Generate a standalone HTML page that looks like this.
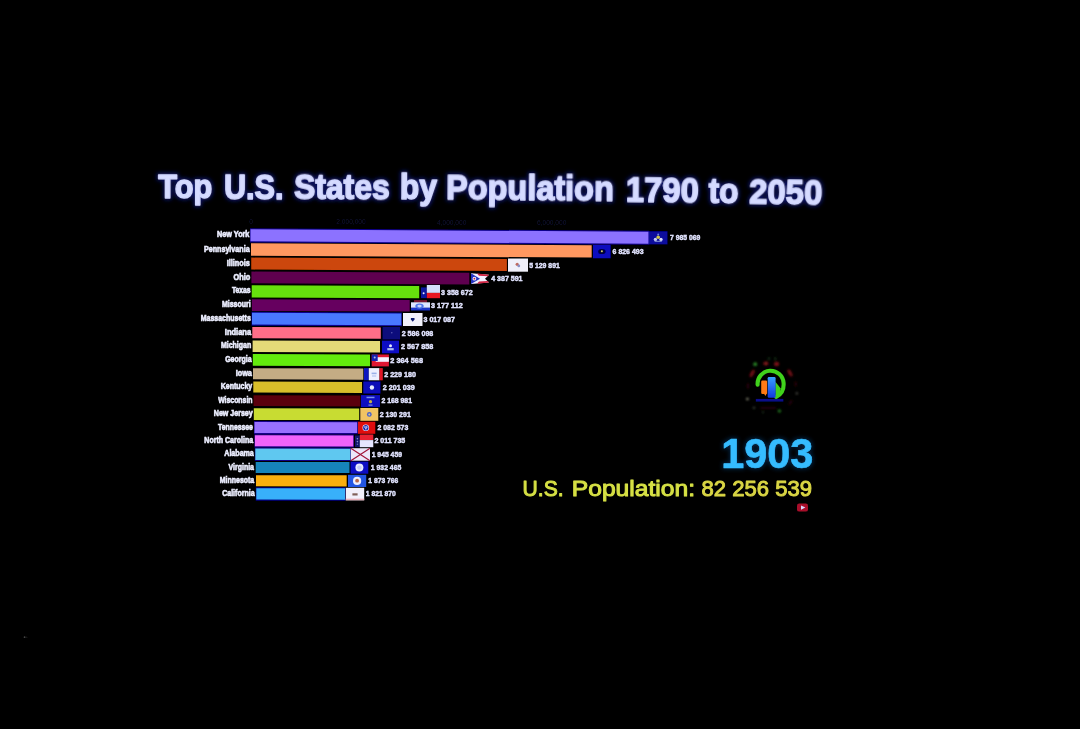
<!DOCTYPE html>
<html lang="en"><head><meta charset="utf-8"><title>Top U.S. States by Population 1790 to 2050</title>
<style>
html,body{margin:0;padding:0;background:#000;}
body{width:1080px;height:729px;overflow:hidden;position:relative;font-family:"Liberation Sans",sans-serif;}
svg{display:block;position:absolute;left:0;top:0;}
text{font-family:"Liberation Sans",sans-serif;font-weight:bold;}
</style></head><body>
<svg width="1080" height="729" viewBox="0 0 1080 729">
<defs>
<filter id="b05" x="-5%" y="-20%" width="110%" height="140%"><feGaussianBlur stdDeviation="0.5"/></filter>
<filter id="b06" x="-5%" y="-20%" width="110%" height="140%"><feGaussianBlur stdDeviation="0.6"/></filter>
<filter id="b07" x="-5%" y="-20%" width="110%" height="140%"><feGaussianBlur stdDeviation="0.7"/></filter>
<filter id="b1" x="-10%" y="-30%" width="120%" height="160%"><feGaussianBlur stdDeviation="1.1"/></filter>
<filter id="glow" x="-5%" y="-40%" width="110%" height="180%"><feGaussianBlur stdDeviation="2.2"/></filter>
<filter id="tglow" x="-25%" y="-40%" width="150%" height="180%"><feMorphology in="SourceAlpha" operator="dilate" radius="0.9" result="d"/><feGaussianBlur in="d" stdDeviation="2.2" result="bl"/><feFlood flood-color="#1c2ae0" flood-opacity="0.5"/><feComposite in2="bl" operator="in" result="g"/><feGaussianBlur in="SourceGraphic" stdDeviation="0.7" result="s"/><feMerge><feMergeNode in="g"/><feMergeNode in="s"/></feMerge></filter>
<filter id="yglow" x="-10%" y="-30%" width="120%" height="160%"><feMorphology in="SourceAlpha" operator="dilate" radius="0.8" result="d"/><feGaussianBlur in="d" stdDeviation="2.2" result="bl"/><feFlood flood-color="#1a6cd0" flood-opacity="0.32"/><feComposite in2="bl" operator="in" result="g"/><feGaussianBlur in="SourceGraphic" stdDeviation="0.7" result="s"/><feMerge><feMergeNode in="g"/><feMergeNode in="s"/></feMerge></filter>
<linearGradient id="lb" x1="0" y1="0" x2="0" y2="1"><stop offset="0" stop-color="#39a0ff"/><stop offset="1" stop-color="#1238e0"/></linearGradient>
</defs>
<rect width="1080" height="729" fill="#000"/>
<g fill="#d6dbff" stroke="#d0d6ff" stroke-width="1.5" stroke-linejoin="round"><text x="158.2" y="198.34" font-size="34.0" textLength="54.0" lengthAdjust="spacingAndGlyphs" transform="rotate(0.10 185.2 198.3)" filter="url(#tglow)">Top</text><text x="224.0" y="198.52" font-size="34.4" textLength="59.5" lengthAdjust="spacingAndGlyphs" transform="rotate(0.20 253.8 198.5)" filter="url(#tglow)">U.S.</text><text x="293.9" y="198.91" font-size="35.0" textLength="95.9" lengthAdjust="spacingAndGlyphs" transform="rotate(0.31 341.9 198.9)" filter="url(#tglow)">States</text><text x="399.8" y="199.40" font-size="35.2" textLength="37.2" lengthAdjust="spacingAndGlyphs" transform="rotate(0.41 418.4 199.4)" filter="url(#tglow)">by</text><text x="446.0" y="200.34" font-size="34.9" textLength="167.8" lengthAdjust="spacingAndGlyphs" transform="rotate(0.56 529.9 200.3)" filter="url(#tglow)">Population</text><text x="625.8" y="201.84" font-size="35.6" textLength="73.0" lengthAdjust="spacingAndGlyphs" transform="rotate(0.74 662.3 201.8)" filter="url(#tglow)">1790</text><text x="708.4" y="202.67" font-size="35.7" textLength="30.0" lengthAdjust="spacingAndGlyphs" transform="rotate(0.82 723.4 202.7)" filter="url(#tglow)">to</text><text x="749.0" y="203.61" font-size="35.8" textLength="73.2" lengthAdjust="spacingAndGlyphs" transform="rotate(0.90 785.6 203.6)" filter="url(#tglow)">2050</text></g>
<g font-size="6.6" fill="#101134" filter="url(#b05)"><text x="251" y="223.8" text-anchor="middle" style="font-weight:normal">0</text><text x="351" y="224.3" text-anchor="middle" style="font-weight:normal">2,000,000</text><text x="451.7" y="224.8" text-anchor="middle" style="font-weight:normal">4,000,000</text><text x="551.7" y="225.3" text-anchor="middle" style="font-weight:normal">6,000,000</text></g>
<g filter="url(#b07)"><polygon points="250.0,228.3 649.1,230.7 649.1,244.8 250.0,242.4" fill="#10008c"/><polygon points="251.5,311.8 401.9,312.4 401.9,326.3 251.5,325.7" fill="#08008c"/><polygon points="254.0,421.0 357.8,421.2 357.8,434.2 254.0,434.0" fill="#12008c"/><polygon points="254.4,434.3 353.9,434.4 353.9,447.5 254.4,447.4" fill="#1c0089"/><polygon points="254.8,447.6 350.9,447.7 350.9,461.1 254.8,461.0" fill="#0b0084"/><polygon points="255.8,487.3 345.6,487.3 345.6,500.7 255.8,500.7" fill="#060089"/></g>
<g filter="url(#b05)"><polygon points="250.5,229.3 648.5,231.7 648.5,243.7 250.5,241.3" fill="#8c72ff"/><polygon points="251.0,243.3 591.7,245.2 591.7,257.6 251.0,255.7" fill="#ff9860"/><polygon points="251.2,257.6 506.9,259.0 506.9,271.0 251.2,269.6" fill="#cc4608"/><polygon points="251.4,271.6 469.3,272.7 469.3,284.4 251.4,283.3" fill="#5e0650"/><polygon points="251.7,285.3 419.2,286.1 419.2,298.2 251.7,297.4" fill="#66e008"/><polygon points="251.9,299.3 409.7,300.0 409.7,311.6 251.9,310.9" fill="#66065e"/><polygon points="252.0,312.8 401.3,313.4 401.3,325.3 252.0,324.6" fill="#4878ff"/><polygon points="252.3,327.0 380.8,327.5 380.8,338.8 252.3,338.3" fill="#ff6e88"/><polygon points="252.6,340.6 380.0,341.0 380.0,352.6 252.6,352.1" fill="#e4da78"/><polygon points="252.8,354.1 370.0,354.5 370.0,366.2 252.8,365.8" fill="#64eb0a"/><polygon points="253.0,368.3 363.3,368.6 363.3,379.7 253.0,379.3" fill="#c4ac84"/><polygon points="253.3,381.6 362.0,381.9 362.0,392.9 253.3,392.6" fill="#d8be2c"/><polygon points="253.5,395.3 360.3,395.5 360.3,406.4 253.5,406.1" fill="#5a0508"/><polygon points="253.8,408.3 359.2,408.5 359.2,420.1 253.8,419.9" fill="#c8dc32"/><polygon points="254.5,422.0 357.2,422.2 357.2,433.1 254.5,432.9" fill="#9870ff"/><polygon points="254.9,435.3 353.3,435.4 353.3,446.5 254.9,446.3" fill="#f064fa"/><polygon points="255.3,448.6 350.3,448.7 350.3,460.0 255.3,459.9" fill="#5fc8f0"/><polygon points="255.7,462.0 349.5,462.1 349.5,473.0 255.7,472.9" fill="#1484ba"/><polygon points="256.0,475.3 346.7,475.3 346.7,486.4 256.0,486.3" fill="#faaf0a"/><polygon points="256.3,488.3 345.0,488.3 345.0,499.7 256.3,499.6" fill="#38b0fa"/></g>
<g filter="url(#b07)"><rect x="648.9" y="231.2" width="18.6" height="13.2" fill="#08089c" /><circle cx="655.4" cy="239.4" r="1.7" fill="#c4ccf4"/><circle cx="661.0" cy="239.4" r="1.7" fill="#d8dcf8"/><circle cx="658.2" cy="237.2" r="1.8" fill="#d0c848"/><circle cx="658.2" cy="234.6" r="1.0" fill="#7088d8"/><rect x="654.6" y="240.8" width="7.2" height="1.0" fill="#8898d8" /><rect x="593.0" y="244.8" width="17.7" height="13.5" fill="#0707be" /><ellipse cx="601.9" cy="251.5" rx="3.6" ry="2.6" fill="#06063a"/><circle cx="601.9" cy="251.2" r="1.0" fill="#d8d070"/><rect x="508.0" y="258.5" width="20.0" height="13.2" fill="#f0f0fa" /><circle cx="517.2" cy="264.3" r="1.6" fill="#c06a60"/><circle cx="518.8" cy="265.9" r="1.4" fill="#8a90c8"/><path d="M471.0 273.2 L489.0 274.7 L485.0 278.7 L489.0 282.6 L471.0 284.1 Z" fill="#f4f0ff"/><path d="M477.0 273.6 L489.0 274.7 L487.8 276.2 L479.0 275.8 Z" fill="#d02040"/><path d="M477.0 283.7 L489.0 282.6 L487.8 281.1 L479.0 281.5 Z" fill="#d02040"/><path d="M471.0 273.2 L480.0 278.7 L471.0 284.1 Z" fill="#2030c0"/><circle cx="474.4" cy="278.7" r="1.9" fill="#f4f0ff"/><circle cx="474.4" cy="278.7" r="0.9" fill="#c02040"/><rect x="421.0" y="287.4" width="5.8" height="10.7" fill="#0a14a0" /><circle cx="423.6" cy="293.2" r="1.0" fill="#e8e8ff"/><rect x="426.8" y="285.0" width="13.2" height="7.9" fill="#d4defc" /><rect x="426.8" y="292.9" width="13.2" height="5.3" fill="#e81424" /><rect x="414.0" y="300.1" width="13.0" height="2.6" fill="#7a1830" /><rect x="411.0" y="302.3" width="19.0" height="5.6" fill="#dce6ff" /><rect x="411.0" y="307.7" width="19.0" height="2.8" fill="#1c34c8" /><ellipse cx="419.5" cy="306.1" rx="4.2" ry="2.6" fill="#5078e8"/><ellipse cx="419.5" cy="306.1" rx="2.2" ry="1.4" fill="#c8d6ff"/><rect x="403.0" y="313.0" width="19.5" height="13.0" fill="#f2f2fc" /><path d="M410.9 317.9 h3.6 v1.6 l-1.8 2.2 l-1.8 -2.2 Z" fill="#101a70"/><rect x="382.5" y="327.0" width="17.5" height="12.5" fill="#0c0c7c" /><circle cx="391.8" cy="332.8" r="0.8" fill="#5a5ab0"/><rect x="382.0" y="340.6" width="17.0" height="12.7" fill="#1010c4" /><circle cx="390.5" cy="345.7" r="1.5" fill="#e8ecff"/><rect x="387.3" y="348.1" width="6.4" height="2.2" fill="#a8b8f0" /><rect x="371.7" y="354.5" width="17.2" height="11.9" fill="#e01830" /><rect x="375.7" y="357.2" width="13.2" height="4.6" fill="#f4f0ff" /><rect x="371.7" y="354.5" width="6.0" height="6.5" fill="#1820b0" /><circle cx="374.7" cy="357.6" r="1.0" fill="#b0b8e8"/><rect x="364.0" y="368.1" width="4.8" height="12.2" fill="#0c18c0" /><rect x="368.8" y="368.1" width="10.7" height="12.2" fill="#eef0ff" /><rect x="379.5" y="368.1" width="3.3" height="12.2" fill="#e01828" /><rect x="371.6" y="372.6" width="5.0" height="1.6" fill="#9ab0e8" /><rect x="372.0" y="375.4" width="4.2" height="1.2" fill="#b4c4f0" /><rect x="363.3" y="381.4" width="17.2" height="12.2" fill="#0a0ab8" /><circle cx="371.9" cy="387.5" r="2.2" fill="#e8ecff"/><rect x="361.0" y="395.1" width="19.0" height="12.0" fill="#0c10c0" /><rect x="366.5" y="396.7" width="8.0" height="1.5" fill="#7a90e8" /><circle cx="370.5" cy="401.7" r="1.6" fill="#c8b040"/><rect x="368.5" y="404.5" width="4.0" height="1.2" fill="#8090d8" /><rect x="360.3" y="408.0" width="18.0" height="12.8" fill="#f2c464" /><circle cx="369.3" cy="414.4" r="2.4" fill="#4a62c8"/><circle cx="369.3" cy="414.4" r="1.0" fill="#d8c890"/><rect x="358.0" y="421.7" width="17.3" height="12.1" fill="#e01010" /><circle cx="365.8" cy="427.7" r="3.3" fill="#f0f0ff"/><circle cx="365.8" cy="427.7" r="2.7" fill="#1828b0"/><circle cx="365.0" cy="427.1" r="0.8" fill="#f0f0ff"/><circle cx="366.8" cy="427.1" r="0.8" fill="#f0f0ff"/><circle cx="365.9" cy="428.7" r="0.8" fill="#f0f0ff"/><rect x="355.0" y="435.5" width="4.8" height="11.6" fill="#10146c" /><circle cx="357.4" cy="438.8" r="0.8" fill="#8890d0"/><circle cx="357.4" cy="441.6" r="0.8" fill="#8890d0"/><circle cx="357.4" cy="444.2" r="0.8" fill="#6870b0"/><rect x="359.8" y="434.5" width="13.5" height="5.5" fill="#e82030" /><rect x="359.8" y="440.1" width="13.5" height="7.1" fill="#e6e6ff" /><rect x="350.8" y="448.2" width="19.2" height="12.5" fill="#ece6fa" /><path d="M350.8 448.2 L370.0 460.7 M370.0 448.2 L350.8 460.7" stroke="#a01438" stroke-width="1.15" fill="none"/><rect x="350.5" y="461.6" width="17.8" height="12.1" fill="#0c0cc4" /><circle cx="359.4" cy="467.6" r="4.0" fill="#e8eaff"/><circle cx="359.4" cy="467.6" r="2.2" fill="#c4ccf6"/><rect x="348.0" y="474.8" width="18.2" height="12.2" fill="#2456e4" /><circle cx="357.1" cy="480.9" r="4.1" fill="#eceeff"/><circle cx="357.1" cy="480.7" r="1.9" fill="#b86848"/><rect x="345.8" y="487.8" width="18.4" height="12.5" fill="#f2f0fa" /><rect x="352.4" y="493.3" width="5.2" height="2.2" fill="#806058" /><rect x="345.8" y="498.7" width="18.4" height="1.6" fill="#e8b0b8" /></g>
<g font-size="8.2" fill="#eceeff" stroke="#eceeff" stroke-width="0.6" filter="url(#b06)"><text x="217.1" y="237.3" textLength="32.3" lengthAdjust="spacingAndGlyphs">New York</text><text x="204.0" y="251.5" textLength="45.6" lengthAdjust="spacingAndGlyphs">Pennsylvania</text><text x="226.7" y="265.6" textLength="23.1" lengthAdjust="spacingAndGlyphs">Illinois</text><text x="233.5" y="279.5" textLength="16.7" lengthAdjust="spacingAndGlyphs">Ohio</text><text x="231.9" y="293.4" textLength="18.7" lengthAdjust="spacingAndGlyphs">Texas</text><text x="221.9" y="307.1" textLength="28.8" lengthAdjust="spacingAndGlyphs">Missouri</text><text x="200.8" y="320.8" textLength="50.0" lengthAdjust="spacingAndGlyphs">Massachusetts</text><text x="224.8" y="334.7" textLength="26.3" lengthAdjust="spacingAndGlyphs">Indiana</text><text x="221.0" y="348.4" textLength="30.2" lengthAdjust="spacingAndGlyphs">Michigan</text><text x="225.2" y="362.0" textLength="26.4" lengthAdjust="spacingAndGlyphs">Georgia</text><text x="235.7" y="375.9" textLength="16.2" lengthAdjust="spacingAndGlyphs">Iowa</text><text x="220.7" y="389.1" textLength="31.5" lengthAdjust="spacingAndGlyphs">Kentucky</text><text x="218.2" y="402.8" textLength="34.3" lengthAdjust="spacingAndGlyphs">Wisconsin</text><text x="213.8" y="416.1" textLength="38.9" lengthAdjust="spacingAndGlyphs">New Jersey</text><text x="218.1" y="429.5" textLength="34.8" lengthAdjust="spacingAndGlyphs">Tennessee</text><text x="204.3" y="442.9" textLength="48.9" lengthAdjust="spacingAndGlyphs">North Carolina</text><text x="224.3" y="456.3" textLength="29.5" lengthAdjust="spacingAndGlyphs">Alabama</text><text x="228.6" y="469.5" textLength="25.4" lengthAdjust="spacingAndGlyphs">Virginia</text><text x="219.8" y="482.9" textLength="34.4" lengthAdjust="spacingAndGlyphs">Minnesota</text><text x="222.2" y="496.0" textLength="32.4" lengthAdjust="spacingAndGlyphs">California</text></g>
<g font-size="7.7" fill="#e2e4ff" stroke="#e2e4ff" stroke-width="0.45" filter="url(#b07)"><text x="670.0" y="240.3" textLength="30.3" lengthAdjust="spacingAndGlyphs">7 985 069</text><text x="612.6" y="253.9" textLength="30.9" lengthAdjust="spacingAndGlyphs">6 826 493</text><text x="529.2" y="267.5" textLength="30.6" lengthAdjust="spacingAndGlyphs">5 129 891</text><text x="491.2" y="281.1" textLength="31.3" lengthAdjust="spacingAndGlyphs">4 387 591</text><text x="441.0" y="294.7" textLength="31.7" lengthAdjust="spacingAndGlyphs">3 358 672</text><text x="431.0" y="308.3" textLength="31.7" lengthAdjust="spacingAndGlyphs">3 177 112</text><text x="423.5" y="321.8" textLength="31.5" lengthAdjust="spacingAndGlyphs">3 017 087</text><text x="401.7" y="335.7" textLength="31.6" lengthAdjust="spacingAndGlyphs">2 586 098</text><text x="401.0" y="349.3" textLength="32.3" lengthAdjust="spacingAndGlyphs">2 567 858</text><text x="390.3" y="362.8" textLength="32.7" lengthAdjust="spacingAndGlyphs">2 364 568</text><text x="384.2" y="376.6" textLength="31.8" lengthAdjust="spacingAndGlyphs">2 229 180</text><text x="382.8" y="389.9" textLength="31.9" lengthAdjust="spacingAndGlyphs">2 201 039</text><text x="381.4" y="403.4" textLength="30.6" lengthAdjust="spacingAndGlyphs">2 168 981</text><text x="379.7" y="416.8" textLength="31.1" lengthAdjust="spacingAndGlyphs">2 130 291</text><text x="377.5" y="430.1" textLength="30.8" lengthAdjust="spacingAndGlyphs">2 082 573</text><text x="374.4" y="443.4" textLength="30.9" lengthAdjust="spacingAndGlyphs">2 011 735</text><text x="371.7" y="456.8" textLength="30.3" lengthAdjust="spacingAndGlyphs">1 945 459</text><text x="370.8" y="470.0" textLength="30.5" lengthAdjust="spacingAndGlyphs">1 932 465</text><text x="368.3" y="483.3" textLength="30.0" lengthAdjust="spacingAndGlyphs">1 873 766</text><text x="365.8" y="496.4" textLength="30.0" lengthAdjust="spacingAndGlyphs">1 821 870</text></g>
<g filter="url(#b1)">
<ellipse cx="765.9" cy="363.4" rx="2.6" ry="2" fill="#7e1216"/>
<ellipse cx="776.6" cy="364" rx="2.6" ry="2.2" fill="#7e1216"/>
<ellipse cx="752.2" cy="373.4" rx="1.8" ry="4.2" fill="#6e1014" transform="rotate(28 752.2 373.4)"/>
<ellipse cx="790" cy="373" rx="1.8" ry="4" fill="#6e1014" transform="rotate(-28 790 373)"/>
<ellipse cx="748" cy="386" rx="1.2" ry="3" fill="#2a060a"/>
<ellipse cx="795.6" cy="384" rx="1.2" ry="3" fill="#2a060a"/>
<ellipse cx="790.5" cy="402.5" rx="1.4" ry="3" fill="#22060a" transform="rotate(35 790.5 402.5)"/>
<circle cx="755.2" cy="364.2" r="1.9" fill="#2c8a26"/>
<circle cx="779.4" cy="411" r="1.7" fill="#246e20"/>
<circle cx="769" cy="358.6" r="1.2" fill="#18401a"/><circle cx="775.2" cy="358.6" r="1.2" fill="#18401a"/>
<circle cx="747.4" cy="399" r="1.3" fill="#8a8a74"/><circle cx="796.8" cy="393.4" r="1.1" fill="#5a5a50"/><circle cx="754" cy="407.8" r="1.1" fill="#465444"/>
<circle cx="763" cy="412.3" r="1" fill="#1e3a20"/>
<rect x="760.5" y="407.2" width="15.5" height="1.3" fill="#3a0a14"/>
</g>
<g filter="url(#b07)">
<path d="M757.6 384.6 A13 13 0 0 1 783.6 383 C784 389.2 781.4 394.4 776.2 396.8" fill="none" stroke="#40d21a" stroke-width="4.1" stroke-linecap="round"/>
<path d="M775.4 381.8 L780.6 388.2 L779.6 396.6 L775.4 396.8 Z" fill="#40d21a"/>
<rect x="761.2" y="380.6" width="5.9" height="13.4" rx="1.2" fill="#ff7a12"/>
<path d="M763.6 393 l1.8 3 l1.7 -3 Z" fill="#ff7a12"/>
<rect x="767.7" y="377" width="7.9" height="20.7" rx="1.2" fill="url(#lb)"/>
<rect x="755.8" y="398.9" width="27.6" height="2.7" fill="#0a0e98" opacity="0.9"/>
</g>
<text x="721.3" y="467.9" font-size="42.2" textLength="92.1" lengthAdjust="spacingAndGlyphs" fill="#36bcff" stroke="#36bcff" stroke-width="0.7" stroke-linejoin="round" filter="url(#yglow)">1903</text>
<g font-size="22.7" style="font-weight:normal" fill="#d6e044" stroke="#d6e044" stroke-width="1.0" stroke-linejoin="round" filter="url(#b06)"><text x="522.6" y="496.4" style="font-weight:normal" textLength="41.0" lengthAdjust="spacingAndGlyphs">U.S.</text><text x="571.8" y="496.4" style="font-weight:normal" textLength="123.2" lengthAdjust="spacingAndGlyphs">Population:</text><text x="701.6" y="496.4" style="font-weight:normal" fill="#dad644" stroke="#dad644" textLength="110.4" lengthAdjust="spacingAndGlyphs">82 256 539</text></g>
<g filter="url(#b05)"><rect x="797" y="503.6" width="11" height="8" rx="2.2" fill="#a80f2a"/><path d="M801 505.4 L805.4 507.6 L801 509.8 Z" fill="#d8d8ff"/></g>
<g filter="url(#b05)"><circle cx="24.6" cy="637.2" r="0.9" fill="#444"/><circle cx="26.8" cy="637.2" r="0.7" fill="#1c1c1c"/></g>
</svg></body></html>
